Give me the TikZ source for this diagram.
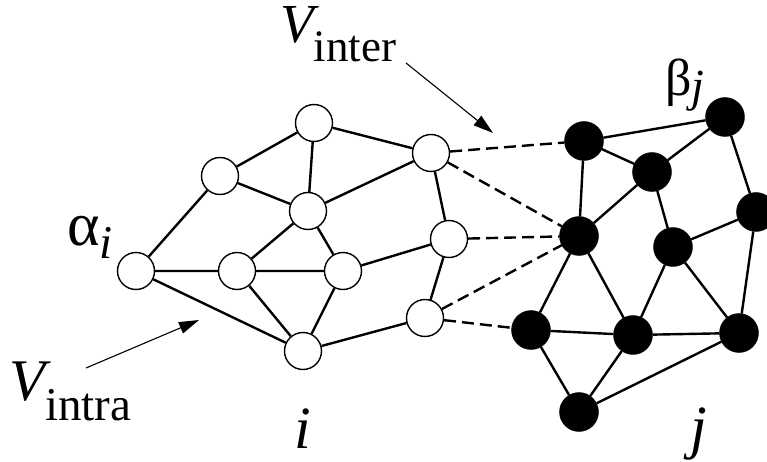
\documentclass[tikz,border=0pt]{standalone}
\usepackage{fontspec}
\setmainfont{Liberation Serif}
\usetikzlibrary{arrows.meta}
\tikzset{
  wn/.style={circle,draw=black,line width=1.4pt,fill=white,minimum size=37pt,inner sep=0pt},
  bn/.style={circle,draw=black,fill=black,minimum size=39pt,inner sep=0pt},
  edge/.style={line width=2.4pt},
  dedge/.style={line width=2.4pt,dash pattern=on 12pt off 6pt},
  pointer/.style={line width=1.1pt,-{Triangle[length=20pt,width=12pt]}},
  lbl/.style={inner sep=0pt,anchor=base west}
}
\begin{document}
\begin{tikzpicture}[x=1pt,y=-1pt]
\useasboundingbox (0,0) rectangle (767,462);
% white nodes
\node[wn] (w1) at (314,123) {};
\node[wn] (w2) at (220,176) {};
\node[wn] (w3) at (308,211) {};
\node[wn] (w4) at (431,153) {};
\node[wn] (w5) at (136,271) {};
\node[wn] (w6) at (237,271) {};
\node[wn] (w7) at (343,271) {};
\node[wn] (w8) at (449,239) {};
\node[wn] (w9) at (425,318) {};
\node[wn] (w10) at (303,351) {};
% black nodes
\node[bn] (b1) at (584,141) {};
\node[bn] (b2) at (652,172) {};
\node[bn] (b3) at (725,117) {};
\node[bn] (b4) at (756,212) {};
\node[bn] (b5) at (579,236) {};
\node[bn] (b6) at (673,247) {};
\node[bn] (b7) at (531,330) {};
\node[bn] (b8) at (633,335) {};
\node[bn] (b9) at (739,333) {};
\node[bn] (b10) at (579,412) {};
% white edges
\draw[edge] (w1) -- (w2) (w1) -- (w3) (w1) -- (w4) (w2) -- (w3) (w2) -- (w5)
  (w3) -- (w4) (w3) -- (w6) (w3) -- (w7) (w5) -- (w6) (w6) -- (w7)
  (w6) -- (w10) (w7) -- (w10) (w5) -- (w10) (w10) -- (w9) (w7) -- (w8)
  (w4) -- (w8) (w8) -- (w9);
% black edges
\draw[edge] (b1) -- (b3) (b1) -- (b2) (b1) -- (b5) (b2) -- (b3) (b2) -- (b5)
  (b2) -- (b6) (b3) -- (b4) (b4) -- (b6) (b4) -- (b9) (b5) -- (b7)
  (b5) -- (b8) (b6) -- (b8) (b6) -- (b9) (b7) -- (b8) (b8) -- (b9)
  (b7) -- (b10) (b8) -- (b10) (b10) -- (b9);
% dashed inter edges
\draw[dedge] (w4) -- (b1) (w4) -- (b5) (w8) -- (b5) (w9) -- (b5) (w9) -- (b7);
% labels
\node[lbl] (vinter) at (280,43) {{\fontsize{55}{55}\selectfont\itshape V}\raisebox{-19pt}{\fontsize{45}{45}\selectfont inter}};
\node[lbl] (vintra) at (9,400) {{\fontsize{59}{59}\selectfont\itshape V}\raisebox{-20pt}{\fontsize{47}{47}\selectfont intra}};
\node[lbl] (alpha) at (67,245) {{\fontsize{62}{62}\selectfont α}\raisebox{-13pt}{\fontsize{47}{47}\selectfont\itshape i}};
\node[lbl] (beta) at (665,96) {{\fontsize{52}{52}\selectfont β}\raisebox{-6pt}{\fontsize{46}{46}\selectfont\itshape j}};
\node[lbl] (ilab) at (294,448) {\fontsize{60}{60}\selectfont\itshape i};
\node[lbl] (jlab) at (690,447) {\fontsize{60}{60}\selectfont\itshape j};
% pointers
\coordinate (pa1) at (406,63);
\coordinate (pa2) at (493,133);
\coordinate (pb1) at (86,368);
\coordinate (pb2) at (199,320);
\draw[pointer] (pa1) -- (pa2);
\draw[pointer] (pb1) -- (pb2);
\end{tikzpicture}
\end{document}
